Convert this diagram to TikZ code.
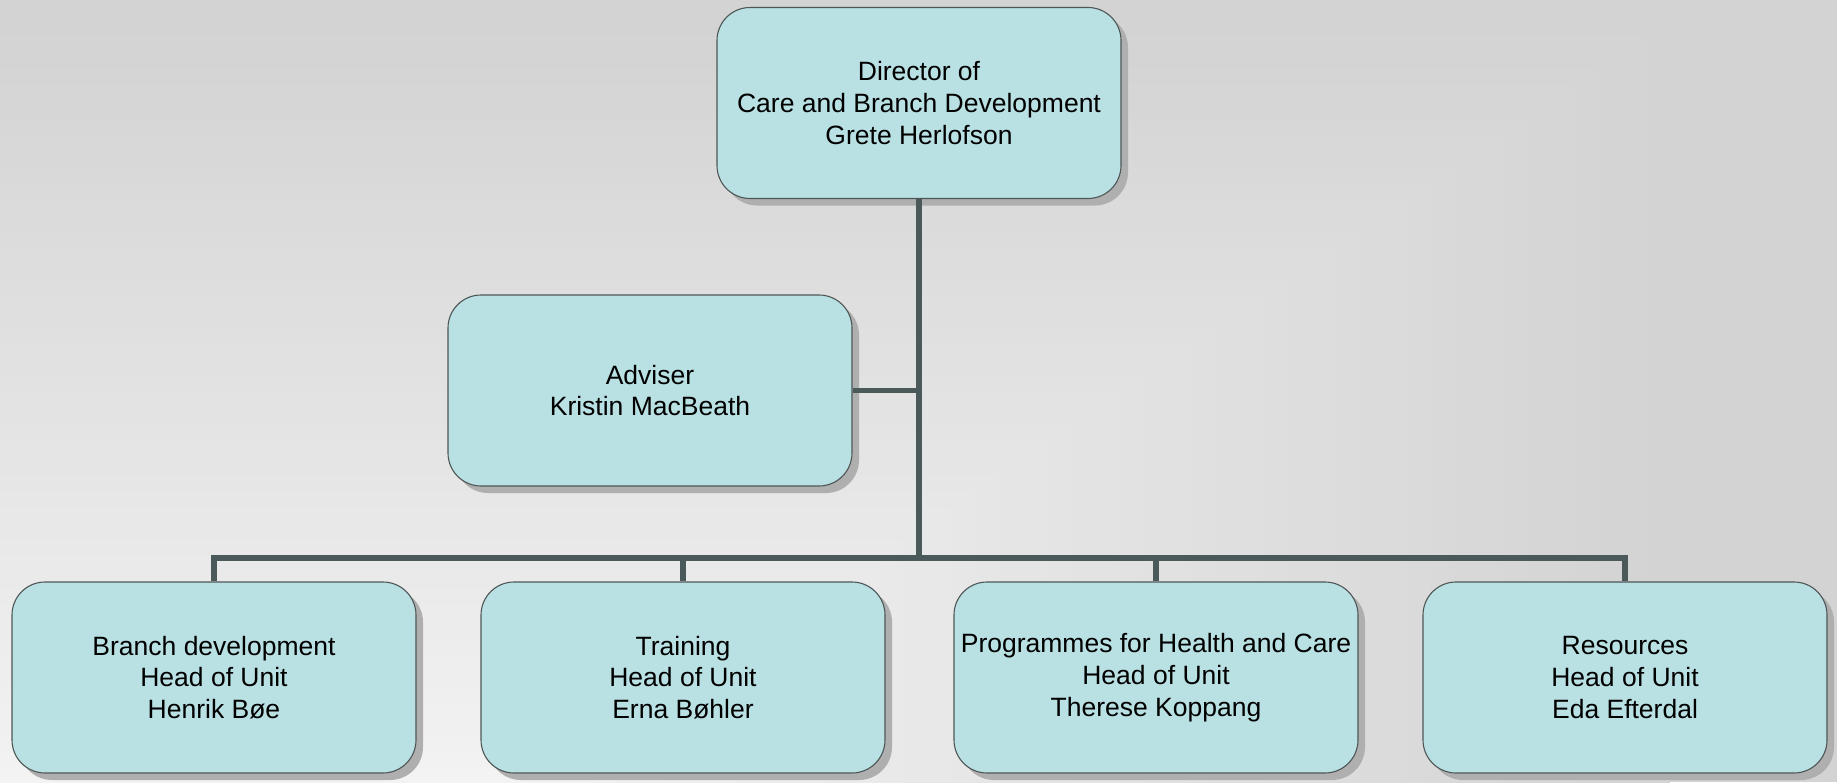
\documentclass[tikz,border=0pt]{standalone}
\usepackage{fontspec}
\setmainfont{Liberation Sans}
\usetikzlibrary{shadows}
\definecolor{bgdark}{HTML}{D3D3D3}
\definecolor{bglight}{HTML}{F4F4F4}
\definecolor{boxfill}{HTML}{B9E0E3}
\definecolor{boxborder}{HTML}{4E5656}
\definecolor{shadowgray}{HTML}{AFAFAF}
\definecolor{conncol}{HTML}{4A5A5B}
\tikzset{
  orgbox/.style={draw=boxborder, line width=1.1pt, fill=boxfill,
    rounded corners=33pt, minimum width=404pt, minimum height=191pt,
    inner sep=0pt, align=center, text=black,
    font=\fontsize{26.5}{31.7}\selectfont,
    drop shadow={shadow xshift=7pt, shadow yshift=-7pt, fill=shadowgray, opacity=1}},
  conn/.style={draw=conncol, line width=5.5pt, line join=miter}
}
\begin{document}
\begin{tikzpicture}[x=1pt,y=-1pt]
\useasboundingbox (0,0) rectangle (1837,782);
% background rectangular gradient
\begin{scope}
\clip (0,0) rectangle (1837,782);
\fill[bgdark] (0,0) rectangle (1837,782);
\foreach \i in {0,...,48}{
  \pgfmathsetmacro{\d}{1.0-\i/48}
  \pgfmathsetmacro{\p}{100*(1-\d)}
  \pgfmathsetmacro{\yt}{800-\d*780}
  \pgfmathsetmacro{\xr}{520+\d*1150}
  \fill[bglight!\p!bgdark] (-2,\yt) rectangle (\xr,790);
}
\end{scope}
% connectors
\coordinate (busy) at (0,558);
\node[orgbox] (top) at (919,103) {Director of\\Care and Branch Development\\Grete Herlofson};
\node[orgbox] (adv) at (650,390.5) {Adviser\\Kristin MacBeath};
\node[orgbox] (b1) at (214,677.5) {Branch development\\Head of Unit\\Henrik Bøe};
\node[orgbox] (b2) at (683,677.5) {Training\\Head of Unit\\Erna Bøhler};
\node[orgbox] (b3) at (1156,677.5) {Programmes for Health and Care\\Head of Unit\\Therese Koppang};
\node[orgbox] (b4) at (1625,677.5) {Resources\\Head of Unit\\Eda Efterdal};
\draw[conn] (top.south) -- (top.south |- busy);
\draw[conn] (adv.east) -- (adv.east -| top.south);
\draw[conn] (b1.north) -- (b1.north |- busy) -- (b4.north |- busy) -- (b4.north);
\draw[conn] (b2.north) -- (b2.north |- busy);
\draw[conn] (b3.north) -- (b3.north |- busy);
\end{tikzpicture}
\end{document}
